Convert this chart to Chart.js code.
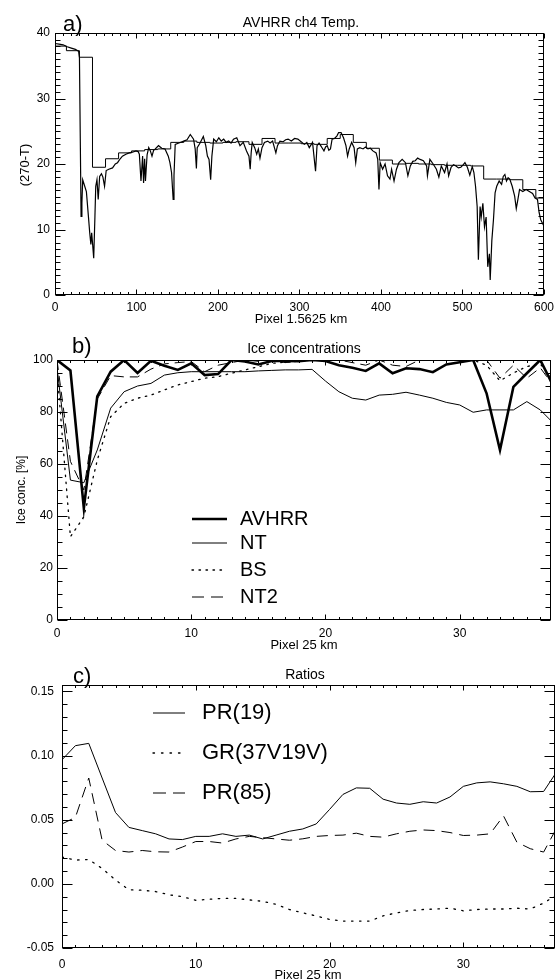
<!DOCTYPE html>
<html><head><meta charset="utf-8">
<script src="https://cdn.jsdelivr.net/npm/chart.js@4.4.1/dist/chart.umd.min.js"></script>
<style>
html,body{margin:0;padding:0;background:#fff;}
#wrap{position:relative;width:559px;height:980px;background:#fff;}
.c{position:absolute;left:0;width:559px;}
</style></head><body><div id="wrap">
<div class="c" style="top:0;height:327px"><canvas id="ca"></canvas></div>
<div class="c" style="top:327px;height:328px"><canvas id="cb"></canvas></div>
<div class="c" style="top:655px;height:325px"><canvas id="cc"></canvas></div>
</div>
<script>
// ---------- Panel a: AVHRR ch4 temperature (270-T) ----------
const aPixel = [0,5,10,15,20,25,29,30,31,32,33,34,36,38.5,41,42.6,44,45,46,47.5,49,50,51.5,53,54.8,57,58.8,60.8,62.8,66,70.6,74,76.7,80,82.7,87,91,95,99.4,102,103.5,105.5,107.5,108.7,110,111,113,115,117,119,121,123,127,131,135,139,141,143,145,146,147.5,152,158,162,166,170,172,173.5,174.5,178,182,185,187,189,191,192.5,194.7,198,201,204,207,210,213,216,219,223,227,231,235,238,239.5,240.7,242,245,247.5,249.5,251.5,254,257,261,264,267,271,273,276,280,283,286,290,294,298,302,306,309,312,316,319.7,321.5,324,326,328,330,332,334,336,338,340,343,346,348,351,354,357,359,361,364,367,369,371,374,378,381,384,387,390,394,396,397.5,399,402,405,408,411,413,416,419,422,426,430,433,436,439,442,445,448,452,456,457,460,464,468,471,474,478,481,483,486,489,492,495,498,501,503,506,509,512,514,516,518,519.5,521.6,523,525,527,529,531,533,534,536,538,540,542,545,548,550,552,554,556,558,561,564,566,568,570,574,578,582,586,589,592,594,596,598,600];
const aTemp = [38.4,38.3,38.2,37.9,37.7,37.5,37.2,36.2,24,12,14,17.6,16.8,15.8,12,9.5,7.7,9.5,8,5.6,12,16.6,17.6,14.6,18.1,18.5,18,16.6,19.0,19.2,19.4,20.0,20.2,20.8,21.2,21.5,21.7,21.8,22.0,21.9,21.5,17.4,21.2,17.1,20.8,17.4,21.4,22.5,22.0,21.2,22.1,22.3,22.8,22.4,22.3,21.2,20.2,18.7,14.6,18.2,23.0,23.2,23.5,23.7,24.5,23.8,22.3,19.3,22.5,23.2,24.2,22.8,21.2,20.7,17.6,21.2,23.8,23.4,24.0,23.5,23.8,23.3,23.5,23.2,23.8,24.0,22.8,23.3,22.0,21.2,19.2,21.7,23.3,22.5,21.5,22.3,20.9,22.5,23.3,23.5,23.2,23.5,21.7,22.8,23.5,23.4,23.7,23.8,23.5,23.9,23.8,23.4,23.0,23.3,22.5,23.3,18.9,22.8,23.2,22.8,22.4,22.0,22.6,22.8,22.1,22.3,23.8,23.9,24.3,24.8,24.8,24.0,22.8,21.2,22.3,23.3,22.5,20.2,22.3,22.5,22.3,22.6,22.3,22.4,22.0,21.7,20.7,16.1,20.2,19.2,20.0,18.2,17.7,19.2,17.4,19.2,20.2,20.7,20.2,18.2,19.7,20.4,20.5,20.9,20.7,20.5,19.7,18.2,20.7,20.0,19.2,18.0,19.7,18.7,20.0,18.2,19.5,19.9,19.7,19.4,19.5,19.9,20.2,19.5,18.3,19.6,18.7,16.6,13.5,5.4,13.5,11.9,14.0,10.4,11.9,4.3,6.3,2.3,8.3,11.5,15.6,16.6,17.4,16.9,18.1,18.4,17.4,17.9,17.7,16.6,15.1,13.2,14.6,16.1,15.8,16.1,15.8,15.5,14.8,14.6,12.6,11.5,11.0,10.5];
const aStepStart = [0,14,30,46,62,78,94,110,126,142,158,174,190,206,222,238,254,270,286,302,318,334,350,366,382,398,414,430,446,462,478,494,510,526,542,558,574,590,600];
const aStepTemp  = [38.0,37.3,36.3,19.5,20.8,21.7,22.0,22.2,22.3,23.3,23.5,23.3,23.2,23.3,23.4,23.0,23.9,23.2,23.2,23.1,23.0,23.9,24.5,23.3,22.4,20.6,20.0,20.1,20.0,19.9,19.8,19.8,19.7,17.7,17.7,17.6,16.1,14.8,14.8];
const aXTicks = [0,100,200,300,400,500,600];
const aYTicks = [0,10,20,30,40];

// ---------- Panel b: ice concentrations [%] ----------
const bPixel = [0,1,2,3,4,5,6,7,8,9,10,11,12,13,14,15,16,17,18,19,20,21,22,23,24,25,26,27,28,29,30,31,32,33,34,35,36,37];
const bAVHRR = [100,96,43,86,95.5,100,95,99.7,97.8,96.2,98.7,94.2,94.6,100,99.4,98.3,99.6,99.6,99.5,100,99.6,98,97,95.8,98.7,94.9,96.8,96.5,95.3,98.3,99.1,100,87.2,65.4,89.7,94.9,100,89.7];
const bNT    = [97,53.8,52.8,65.4,81.5,87.8,90,91,94.2,95.1,95.5,95.5,95.5,95.5,95.5,95.8,96,96.2,96.2,96.4,91.9,87.8,85.3,84.6,86.5,86.8,87.6,86.5,85.3,83.7,82.7,79.9,80.8,80.8,80.8,84,80.8,75.6];
const bBS    = [96,32,39.7,61.5,78.2,83.3,85.3,86.5,88.5,90.4,91.7,93,93.6,94.9,96.2,97.4,98.7,99.2,99.5,100,100,100,100,100,100,100,100,100,100,100,100,100,98,92,95,97.5,98.5,92];
const bNT2   = [100,61,50,85,94,93.5,93.5,96.5,98.5,99,99.4,95.5,98,99,100,99.5,100,99,99.5,100,100,100,99,98,100,98,97.5,100,100,100,100,100,100,93,98,93,97,90];
const bXTicks = [0,10,20,30];
const bYTicks = [0,20,40,60,80,100];

// ---------- Panel c: ratios ----------
const cPixel = bPixel;
const cPR19 = [0.0967,0.1077,0.1095,0.0825,0.0556,0.044,0.0415,0.039,0.035,0.0345,0.037,0.037,0.039,0.037,0.038,0.035,0.038,0.041,0.0428,0.0467,0.058,0.0697,0.0748,0.0745,0.066,0.063,0.062,0.064,0.063,0.0677,0.076,0.0787,0.0795,0.078,0.076,0.0718,0.072,0.0877];
const cGR   = [0.021,0.0185,0.019,0.012,0.003,-0.0046,-0.005,-0.006,-0.0085,-0.010,-0.0128,-0.012,-0.0113,-0.0113,-0.0125,-0.0136,-0.016,-0.020,-0.0226,-0.025,-0.0277,-0.029,-0.029,-0.029,-0.025,-0.0226,-0.0208,-0.020,-0.0196,-0.019,-0.021,-0.020,-0.0196,-0.0196,-0.019,-0.0196,-0.015,-0.0085];
const cPR85 = [0.0467,0.0518,0.0825,0.034,0.026,0.0248,0.026,0.025,0.0248,0.0287,0.033,0.033,0.0318,0.035,0.037,0.036,0.035,0.034,0.0351,0.037,0.0377,0.038,0.0395,0.037,0.0364,0.039,0.041,0.042,0.0415,0.040,0.0377,0.038,0.039,0.053,0.0325,0.0274,0.0248,0.044];
const cXTicks = [0,10,20,30];
const cYTicks = [-0.05,0,0.05,0.10,0.15];

const FONT = '"Liberation Sans", Arial, sans-serif';
const INK = '#000';

function pts(xs, ys){ return xs.map((x,i)=>({x:x, y:ys[i]})); }

function idlPlugin(spec){
  return {
    id:'idl',
    afterDraw(chart){
      const ctx = chart.ctx, a = chart.chartArea, xs = chart.scales.x, ys = chart.scales.y;
      ctx.save();
      ctx.strokeStyle = INK; ctx.fillStyle = INK; ctx.lineWidth = 1; ctx.setLineDash([]);
      const L = Math.round(a.left)+0.5, R = Math.round(a.right)-0.5, T = Math.round(a.top)+0.5, B = Math.round(a.bottom)-0.5;
      const line=(x1,y1,x2,y2)=>{ctx.beginPath();ctx.moveTo(x1,y1);ctx.lineTo(x2,y2);ctx.stroke();};
      ctx.strokeRect(L, T, R-L, B-T);
      const majX = xs.ticks.map(t=>t.value), majY = ys.ticks.map(t=>t.value);
      majX.forEach(v=>{const p=Math.round(xs.getPixelForValue(v))+0.5; line(p,B,p,B-spec.xMaj); line(p,T,p,T+spec.xMaj);});
      majY.forEach(v=>{const p=Math.round(ys.getPixelForValue(v))+0.5; line(L,p,L+spec.yMaj,p); line(R,p,R-spec.yMaj,p);});
      const isMaj=(v,arr,st)=>arr.some(m=>Math.abs(m-v)<st*1e-3);
      for(let k=Math.ceil(xs.min/spec.xMinor-1e-9); k*spec.xMinor<=xs.max+1e-9; k++){
        const v=k*spec.xMinor; if(isMaj(v,majX,spec.xMinor)) continue;
        const p=Math.round(xs.getPixelForValue(v))+0.5; line(p,B,p,B-spec.xMaj/2); line(p,T,p,T+spec.xMaj/2);
      }
      for(let k=Math.ceil(ys.min/spec.yMinor-1e-9); k*spec.yMinor<=ys.max+1e-9; k++){
        const v=k*spec.yMinor; if(isMaj(v,majY,spec.yMinor)) continue;
        const p=Math.round(ys.getPixelForValue(v))+0.5; line(L,p,L+spec.yMaj/2,p); line(R,p,R-spec.yMaj/2,p);
      }
      // texts
      spec.texts.forEach(t=>{
        ctx.save();
        ctx.font = t.size+'px '+FONT;
        ctx.textAlign = t.align||'center';
        ctx.textBaseline = t.base||'middle';
        ctx.translate(t.x, t.y - spec.off);
        if(t.rot) ctx.rotate(t.rot);
        ctx.fillText(t.text, 0, 0);
        ctx.restore();
      });
      // legend
      if(spec.legend){
        const lg = spec.legend;
        chart.data.datasets.forEach((ds,i)=>{
          const y = lg.ys[i] - spec.off;
          ctx.save();
          ctx.lineWidth = ds.borderWidth;
          ctx.setLineDash(lg.dash[i]||[]);
          ctx.lineCap = lg.cap[i]||'butt';
          line(lg.x1, y, lg.x2, y);
          ctx.restore();
          ctx.font = lg.size+'px '+FONT; ctx.textAlign='left'; ctx.textBaseline='middle';
          ctx.fillText(ds.label, lg.tx, y);
        });
      }
      ctx.restore();
    }
  };
}

function build(id, spec, datasets, xr, yr){
  return new Chart(document.getElementById(id), {
    type:'line',
    data:{datasets:datasets},
    options:{
      responsive:true, maintainAspectRatio:false, animation:false,
      layout:{padding:spec.pad},
      plugins:{legend:{display:false}, tooltip:{enabled:false}, title:{display:false}},
      elements:{point:{radius:0}, line:{tension:0, borderCapStyle:'butt', borderJoinStyle:'miter'}},
      scales:{
        x:{type:'linear', min:xr.min, max:xr.max,
           grid:{display:false, drawTicks:false}, border:{display:false},
           afterFit:s=>{s.height=spec.xh;},
           afterBuildTicks:s=>{s.ticks=xr.ticks.map(v=>({value:v}));},
           ticks:{padding:spec.xpad, color:INK, font:{family:FONT,size:12}, maxRotation:0, autoSkip:false, callback:xr.fmt}},
        y:{type:'linear', min:yr.min, max:yr.max,
           grid:{display:false, drawTicks:false}, border:{display:false},
           afterFit:s=>{s.width=spec.yw;},
           afterBuildTicks:s=>{s.ticks=yr.ticks.map(v=>({value:v}));},
           ticks:{padding:spec.ypad, color:INK, font:{family:FONT,size:12}, autoSkip:false, callback:yr.fmt}}
      }
    },
    plugins:[idlPlugin(spec)]
  });
}

const intFmt = v=>String(Math.round(v));

// Panel a
build('ca', {
  off:0, pad:{left:5, right:11, top:33, bottom:12}, yw:50, xh:20, xpad:5, ypad:5,
  xMaj:5, yMaj:10, xMinor:10, yMinor:1,
  texts:[
    {text:'a)', x:63, y:31, size:22, align:'left', base:'alphabetic'},
    {text:'AVHRR ch4 Temp.', x:301, y:23, size:14},
    {text:'Pixel 1.5625 km', x:301, y:319, size:13},
    {text:'(270-T)', x:25, y:165, size:13, rot:-Math.PI/2}
  ]
}, [
  {label:'AVHRR', data:pts(aPixel,aTemp), borderColor:INK, borderWidth:1.2},
  {label:'25 km mean', data:pts(aStepStart,aStepTemp), borderColor:INK, borderWidth:1, stepped:'before'}
], {min:0, max:600, ticks:aXTicks, fmt:intFmt}, {min:0, max:40, ticks:aYTicks, fmt:intFmt});

// Panel b
build('cb', {
  off:327, pad:{left:7, right:8, top:33, bottom:15}, yw:50, xh:20, xpad:6, ypad:4,
  xMaj:5, yMaj:10, xMinor:1, yMinor:5,
  texts:[
    {text:'b)', x:72, y:353, size:22, align:'left', base:'alphabetic'},
    {text:'Ice concentrations', x:304, y:349, size:14},
    {text:'Pixel 25 km', x:304, y:645, size:13},
    {text:'Ice conc. [%]', x:22, y:490, size:12, rot:-Math.PI/2}
  ],
  legend:{x1:192, x2:227, tx:240, ys:[519,543,570,597], size:20,
          dash:[[],[],[1.5,5.5],[12,7]], cap:['butt','butt','round','butt']}
}, [
  {label:'AVHRR', data:pts(bPixel,bAVHRR), borderColor:INK, borderWidth:2.6},
  {label:'NT', data:pts(bPixel,bNT), borderColor:INK, borderWidth:1},
  {label:'BS', data:pts(bPixel,bBS), borderColor:INK, borderWidth:1.3, borderDash:[1.5,5.5], borderCapStyle:'round'},
  {label:'NT2', data:pts(bPixel,bNT2), borderColor:INK, borderWidth:1, borderDash:[10,6]}
], {min:0, max:36.8, ticks:bXTicks, fmt:intFmt}, {min:0, max:100, ticks:bYTicks, fmt:intFmt});

// Panel c
build('cc', {
  off:655, pad:{left:7, right:4, top:30, bottom:12}, yw:55, xh:20, xpad:9, ypad:8,
  xMaj:5, yMaj:10, xMinor:1, yMinor:0.01,
  texts:[
    {text:'c)', x:73, y:683, size:22, align:'left', base:'alphabetic'},
    {text:'Ratios', x:305, y:675, size:14},
    {text:'Pixel 25 km', x:308, y:975, size:13}
  ],
  legend:{x1:153, x2:185, tx:202, ys:[713,753,793], size:22,
          dash:[[],[1.5,7],[13,7]], cap:['butt','round','butt']}
}, [
  {label:'PR(19)', data:pts(cPixel,cPR19), borderColor:INK, borderWidth:1},
  {label:'GR(37V19V)', data:pts(cPixel,cGR), borderColor:INK, borderWidth:1.3, borderDash:[1.5,6.5], borderCapStyle:'round'},
  {label:'PR(85)', data:pts(cPixel,cPR85), borderColor:INK, borderWidth:1, borderDash:[11,7]}
], {min:0, max:36.85, ticks:cXTicks, fmt:intFmt}, {min:-0.05, max:0.155, ticks:cYTicks, fmt:v=>v.toFixed(2)});
</script>
</body></html>
